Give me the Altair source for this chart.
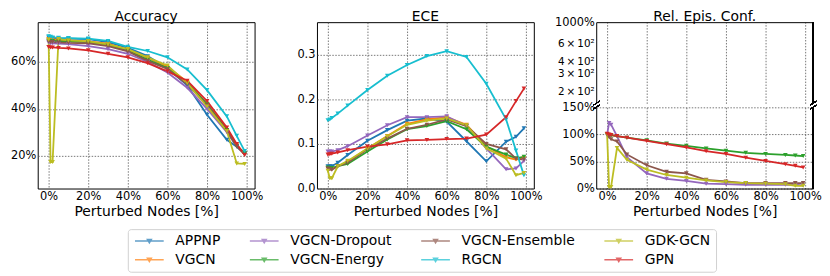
import altair as alt
import pandas as pd

# ---------------- data ----------------
perturbed = [0, 1, 2, 5, 10, 20, 30, 40, 50, 60, 70, 80, 90, 95, 99]

models = ["APPNP", "VGCN", "VGCN-Dropout", "VGCN-Energy",
          "VGCN-Ensemble", "RGCN", "GDK-GCN", "GPN"]
colors = ["#1f77b4", "#ff7f0e", "#9467bd", "#2ca02c",
          "#8c564b", "#17becf", "#bcbd22", "#d62728"]

# Accuracy [%]
acc_appnp = [70.5, 70.3, 70.2, 70.0, 70.0, 69.8, 68.5, 66.0, 62.5, 57.3, 50.0, 37.5, 26.8, 23.8, 21.0]
acc_vgcn = [69.8, 69.6, 69.5, 69.4, 69.2, 68.8, 67.8, 65.2, 61.8, 58.0, 51.5, 42.0, 31.0, 24.5, 21.0]
acc_dropout = [68.3, 68.0, 68.0, 67.8, 67.6, 66.8, 65.5, 63.5, 60.0, 55.5, 49.0, 40.0, 30.0, 24.0, 21.0]
acc_energy = [69.2, 69.0, 69.0, 68.9, 68.7, 68.5, 67.2, 64.8, 61.0, 57.3, 51.0, 42.0, 31.0, 24.0, 21.0]
acc_ensemble = [68.8, 68.5, 68.5, 68.4, 68.2, 68.0, 66.8, 64.5, 60.5, 57.0, 50.5, 41.5, 30.5, 24.0, 20.5]
acc_rgcn = [71.0, 70.8, 70.5, 70.3, 70.2, 70.0, 69.0, 66.5, 64.7, 62.0, 56.8, 48.0, 36.8, 28.5, 22.0]
acc_gdk = [69.5, 17.3, 17.3, 69.8, 69.2, 68.8, 67.5, 65.5, 62.0, 58.5, 51.0, 41.0, 30.5, 16.7, 16.5]
acc_gpn = [66.4, 66.2, 66.2, 66.0, 65.8, 65.0, 63.5, 62.0, 59.5, 56.0, 52.0, 43.3, 32.0, 25.0, 20.3]

# ECE
ece_appnp = [0.050, 0.050, 0.050, 0.058, 0.075, 0.107, 0.131, 0.152, 0.157, 0.150, 0.106, 0.061, 0.105, 0.116, 0.135]
ece_vgcn = [0.045, 0.044, 0.044, 0.050, 0.060, 0.090, 0.118, 0.145, 0.155, 0.160, 0.143, 0.095, 0.070, 0.065, 0.068]
ece_dropout = [0.083, 0.083, 0.083, 0.086, 0.095, 0.119, 0.142, 0.160, 0.160, 0.162, 0.140, 0.090, 0.043, 0.045, 0.062]
ece_energy = [0.047, 0.046, 0.046, 0.050, 0.055, 0.083, 0.110, 0.133, 0.140, 0.151, 0.133, 0.094, 0.076, 0.068, 0.071]
ece_ensemble = [0.045, 0.043, 0.042, 0.050, 0.058, 0.088, 0.112, 0.134, 0.143, 0.155, 0.140, 0.100, 0.088, 0.067, 0.065]
ece_rgcn = [0.153, 0.155, 0.158, 0.168, 0.186, 0.221, 0.253, 0.277, 0.297, 0.308, 0.295, 0.235, 0.155, 0.085, 0.030]
ece_gdk = [0.040, 0.023, 0.023, 0.050, 0.062, 0.090, 0.117, 0.143, 0.152, 0.157, 0.142, 0.090, 0.067, 0.030, 0.035]
ece_gpn = [0.076, 0.077, 0.078, 0.081, 0.086, 0.094, 0.099, 0.108, 0.109, 0.111, 0.112, 0.121, 0.160, 0.196, 0.224]

# Relative epistemic confidence [%]
rec_dropout = [100, 121, 118, 97, 58, 28, 18, 14, 9, 8, 7, 7, 7, 7, 6]
rec_energy = [100, 99, 98, 97, 94, 89, 83, 79, 74, 70, 66, 64, 62, 61, 60]
rec_ensemble = [100, 95, 91, 87, 63, 43, 31, 28, 16, 13, 10, 10, 10, 10, 10]
rec_gdk = [100, 3, 3, 75, 53, 35, 25, 20, 15, 12, 10, 9, 8, 5, 5]
rec_gpn = [101, 100, 99, 97, 94, 88, 82, 76, 69, 64, 57, 51, 45, 42, 39]

acc = dict(zip(models, [acc_appnp, acc_vgcn, acc_dropout, acc_energy,
                        acc_ensemble, acc_rgcn, acc_gdk, acc_gpn]))
ece = dict(zip(models, [ece_appnp, ece_vgcn, ece_dropout, ece_energy,
                        ece_ensemble, ece_rgcn, ece_gdk, ece_gpn]))
rec = {"VGCN-Dropout": rec_dropout, "VGCN-Energy": rec_energy,
       "VGCN-Ensemble": rec_ensemble, "GDK-GCN": rec_gdk, "GPN": rec_gpn}


def long(d):
    rows = []
    for m in models:
        if m in d:
            for x, v in zip(perturbed, d[m]):
                rows.append({"model": m, "x": x, "v": v})
    return pd.DataFrame(rows)


df_acc, df_ece, df_rec = long(acc), long(ece), long(rec)

color_scale = alt.Scale(domain=models, range=colors)

FONT = "DejaVu Sans"
W, H = 219, 168
XDOM = [-5.5, 104]
TOFF = -1.5
LW = 1.8
MSIZE = 22

# legend symbol: a line with a small down-pointing triangle in the middle
legend = alt.Legend(
    title=None, orient="none", legendX=91, legendY=209, columns=4,
    columnPadding=26, rowPadding=5,
    symbolType="M-1.19,0H6.06M1.94,-0.4L2.94,-0.4L2.44,0.45Z",
    symbolSize=64, symbolStrokeWidth=1.5, symbolOpacity=0.7,
    labelFontSize=14, labelFont=FONT, labelOffset=29, labelColor="black",
    strokeColor="#d0d0d0", cornerRadius=3, padding=5, fillColor="white",
)

x_axis = alt.Axis(values=[0, 20, 40, 60, 80, 100], labelExpr="datum.value + '%'",
                  title="Perturbed Nodes [%]")


def series(data, y_scale, y_axis, title):
    return alt.Chart(data).mark_line(
        strokeWidth=LW,
        point=alt.OverlayMarkDef(shape="triangle-down", filled=True, size=MSIZE),
    ).encode(
        x=alt.X("x:Q", scale=alt.Scale(domain=XDOM, nice=False, zero=False), axis=x_axis),
        y=alt.Y("v:Q", scale=y_scale, axis=y_axis),
        color=alt.Color("model:N", scale=color_scale, legend=legend),
    ).properties(width=W, height=H, title=alt.TitleParams(title, offset=TOFF))


p1 = series(df_acc,
            alt.Scale(domain=[6, 77], nice=False, zero=False),
            alt.Axis(values=[20, 40, 60], labelExpr="datum.value + '%'", title=None),
            "Accuracy")
p2 = series(df_ece,
            alt.Scale(domain=[0, 0.373], nice=False, zero=False),
            alt.Axis(values=[0, 0.1, 0.2, 0.3], format=".1f", title=None),
            "ECE")

# ---- panel 3: broken axis ----
H_TOP, H_BOT = 82, 82
frame = {"color": "black", "strokeWidth": 1}

top_axis_x = alt.Axis(orient="top", values=[0, 20, 40, 60, 80, 100], labels=False,
                      ticks=False, title=None, grid=True, domain=True,
                      domainColor="black")
top_axis_y = alt.Axis(values=[200, 300, 400, 600, 1000], grid=False, domain=True,
                      domainColor="black", title=None,
                      labelExpr="datum.value >= 1000 ? '1000%' : format(datum.value/100, 'd') + '\u2009×\u200910²'",
                      labelFontSize={"condition": {"test": "datum.value >= 1000", "value": 11.5},
                                     "value": 10.5})

top_base = alt.Chart(df_rec).mark_point(opacity=0, clip=True).encode(
    x=alt.X("x:Q", scale=alt.Scale(domain=XDOM, nice=False, zero=False), axis=top_axis_x),
    y=alt.Y("v:Q", scale=alt.Scale(type="log", domain=[150, 1000], nice=False), axis=top_axis_y),
)
top_right = alt.Chart(df_rec).mark_rule(**frame).encode(
    x=alt.value(W), y=alt.value(0), y2=alt.value(H_TOP))
top_break = alt.Chart(df_rec).mark_rule(**frame).encode(
    x=alt.value(-3), x2=alt.value(3), y=alt.value(H_TOP + 2), y2=alt.value(H_TOP - 2))
top_break_r = alt.Chart(df_rec).mark_rule(**frame).encode(
    x=alt.value(W - 3), x2=alt.value(W + 3), y=alt.value(H_TOP + 2), y2=alt.value(H_TOP - 2))
p3_top = alt.layer(top_base, top_right, top_break, top_break_r).properties(
    width=W, height=H_TOP,
    title=alt.TitleParams("Rel. Epis. Conf.", offset=TOFF - 6.5),
    view=alt.ViewBackground(stroke=None))

bot_axis_y = alt.Axis(values=[0, 50, 100, 150], labelExpr="datum.value + '%'", title=None,
                      domain=True, domainColor="black")
bot_axis_x = alt.Axis(values=[0, 20, 40, 60, 80, 100], labelExpr="datum.value + '%'",
                      title="Perturbed Nodes [%]", domain=True, domainColor="black")
bot_lines = alt.Chart(df_rec).mark_line(
    strokeWidth=LW,
    point=alt.OverlayMarkDef(shape="triangle-down", filled=True, size=MSIZE),
).encode(
    x=alt.X("x:Q", scale=alt.Scale(domain=XDOM, nice=False, zero=False), axis=bot_axis_x),
    y=alt.Y("v:Q", scale=alt.Scale(domain=[0, 150], nice=False, zero=False), axis=bot_axis_y),
    color=alt.Color("model:N", scale=color_scale, legend=legend),
)
bot_right = alt.Chart(df_rec).mark_rule(**frame).encode(
    x=alt.value(W), y=alt.value(0), y2=alt.value(H_BOT))
bot_break = alt.Chart(df_rec).mark_rule(**frame).encode(
    x=alt.value(-3), x2=alt.value(3), y=alt.value(2), y2=alt.value(-2))
bot_break_r = alt.Chart(df_rec).mark_rule(**frame).encode(
    x=alt.value(W - 3), x2=alt.value(W + 3), y=alt.value(2), y2=alt.value(-2))
p3_bot = alt.layer(bot_lines, bot_right, bot_break, bot_break_r).properties(
    width=W, height=H_BOT, view=alt.ViewBackground(stroke=None))

p3 = alt.vconcat(p3_top, p3_bot, spacing=4, bounds="flush")

chart = alt.hconcat(p1, p2, p3, spacing=63, bounds="flush").properties(
    padding={"left": 1, "top": 0, "right": 0, "bottom": 0}
).configure(font=FONT).configure_view(
    stroke="black", strokeWidth=1
).configure_axis(
    labelFont=FONT, titleFont=FONT, labelFontSize=11.5, titleFontSize=14,
    labelColor="black", titleColor="black", titleFontWeight="normal",
    domain=False, ticks=False, labelPadding=2, titlePadding=3,
    grid=True, gridColor="#555555", gridDash=[1.5, 1.5], gridWidth=0.8,
    gridOpacity=1,
).configure_title(
    font=FONT, fontSize=14, fontWeight="normal", color="black", anchor="middle"
)

chart.save("out.html", embed_options={"renderer": "svg", "actions": False})
